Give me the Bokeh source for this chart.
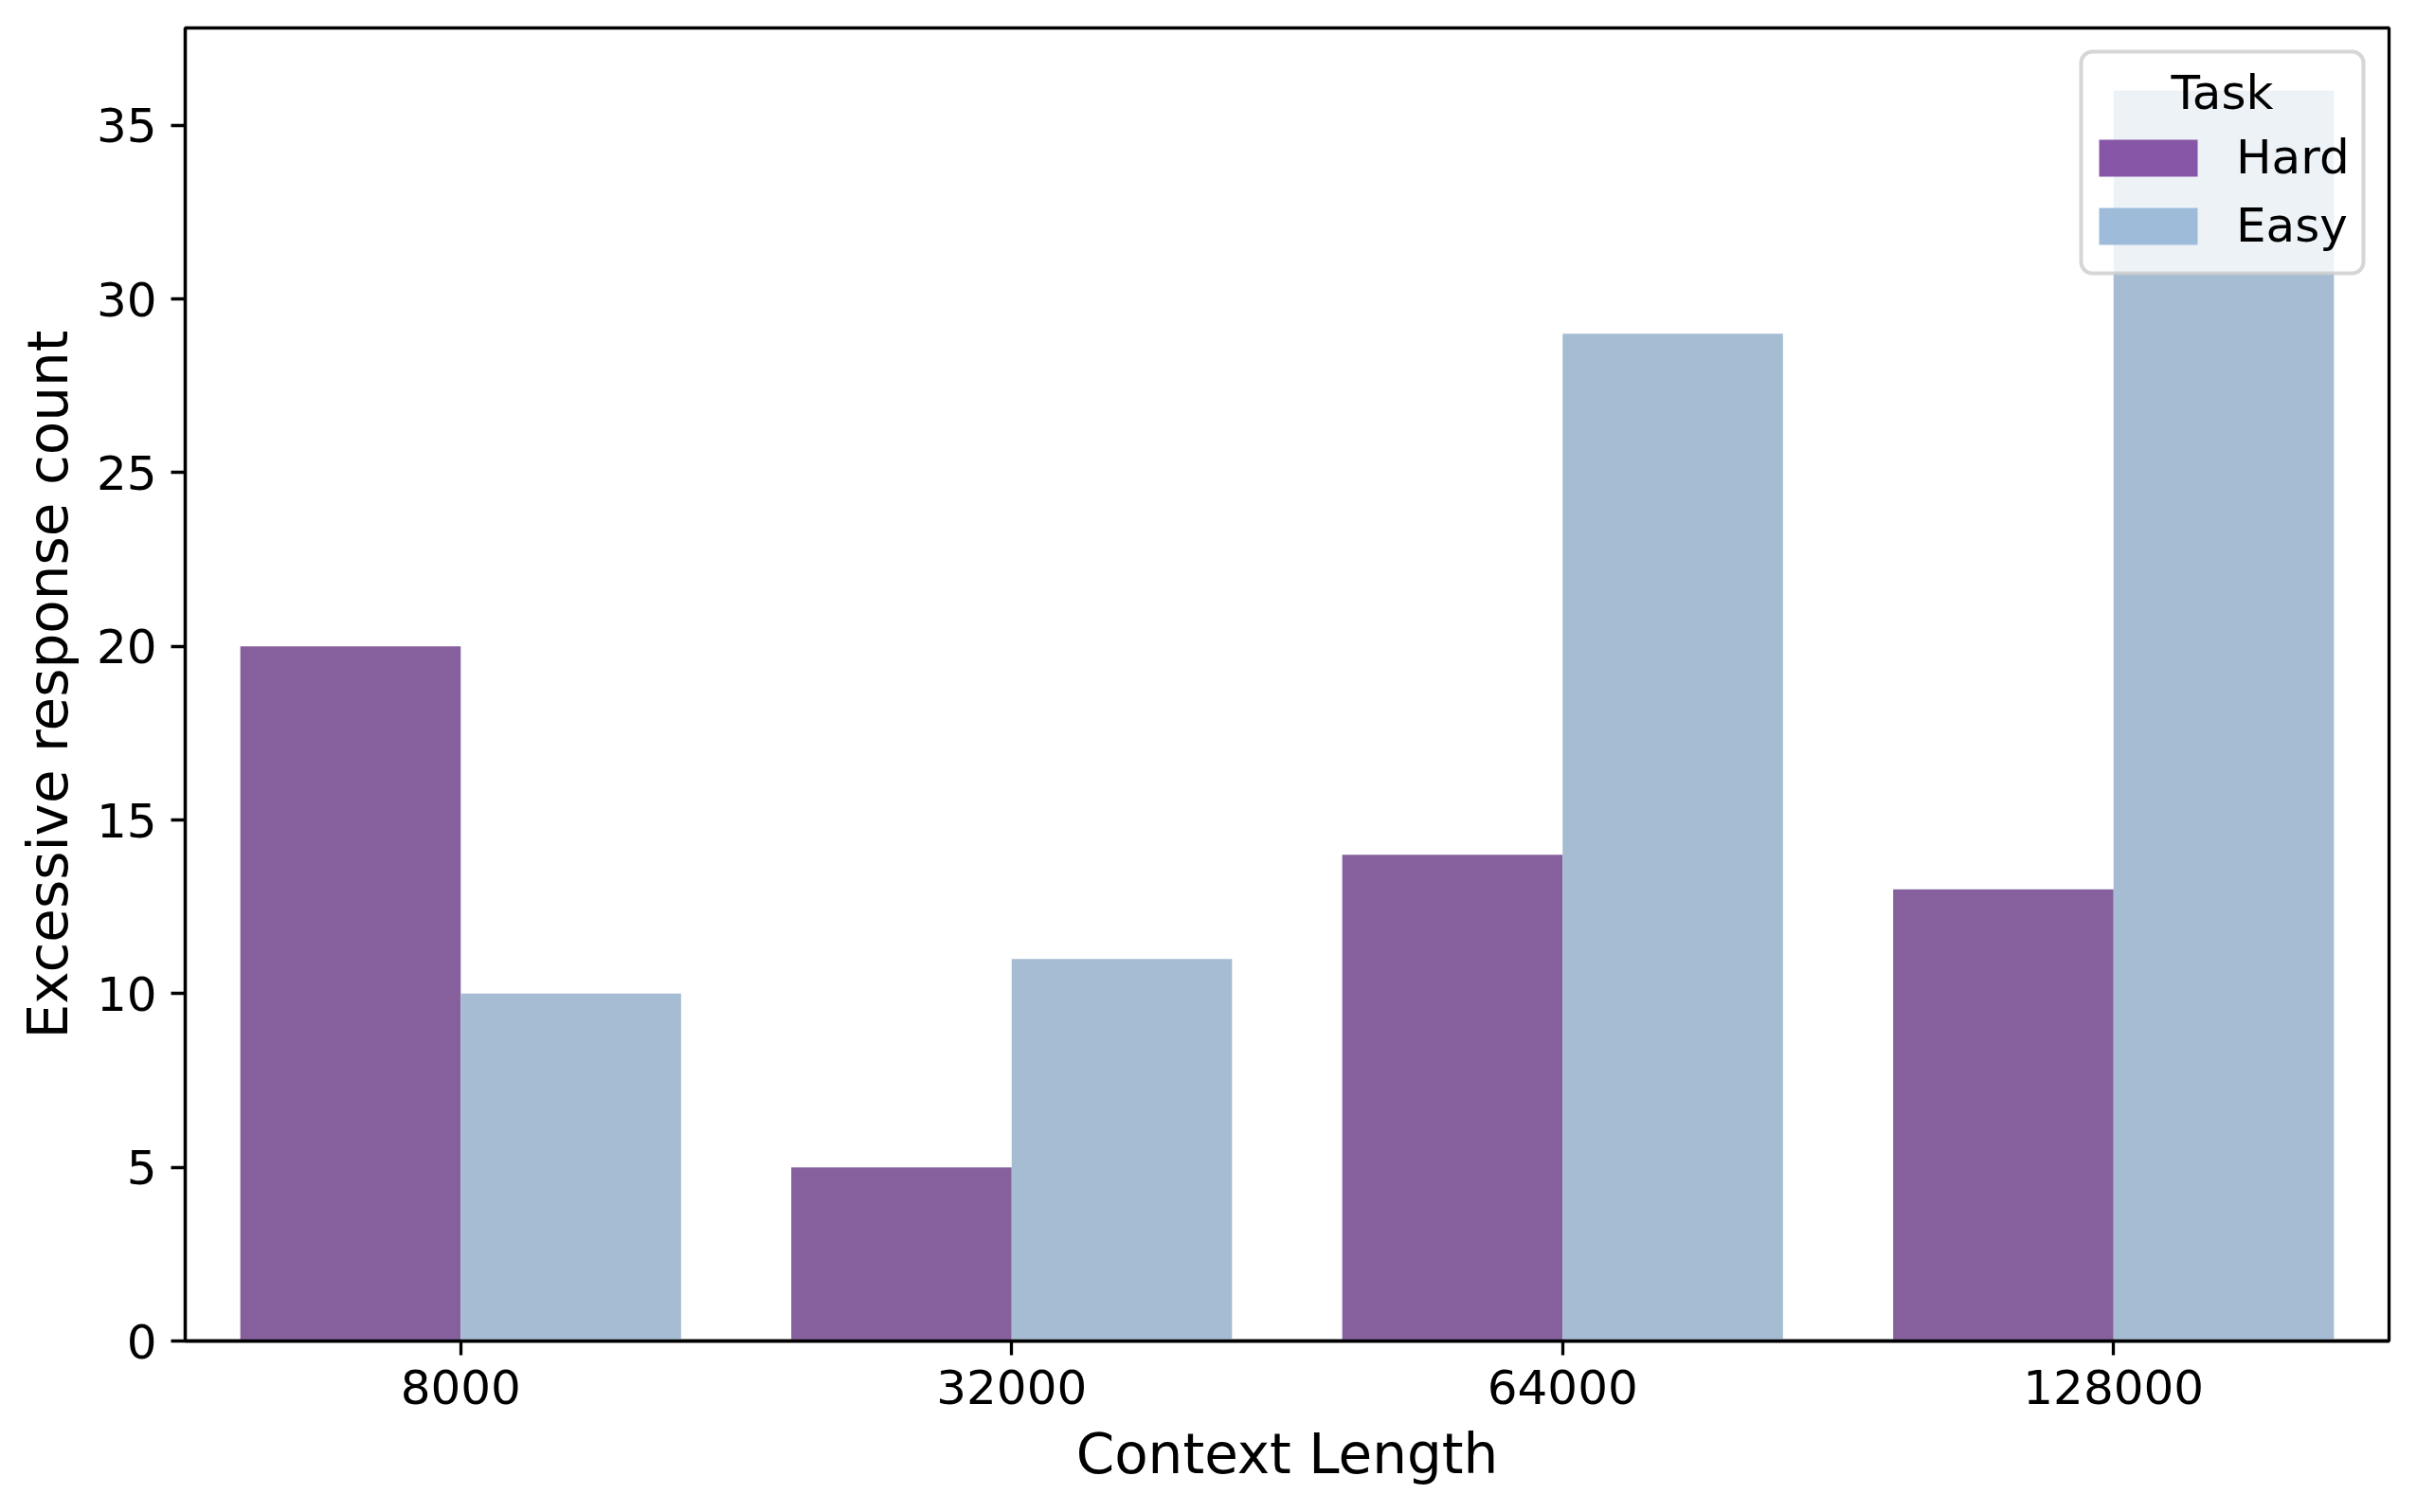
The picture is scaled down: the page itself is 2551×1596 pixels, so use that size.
from bokeh.plotting import figure
from bokeh.models import (ColumnDataSource, FactorRange, Range1d, FixedTicker, Legend, LegendItem,
                          BoxAnnotation, Label)
from bokeh.transform import dodge
from bokeh.embed import file_html
from bokeh.resources import INLINE

# ---- data ----
contexts = ["8000", "32000", "64000", "128000"]
hard = [20, 5, 14, 13]
easy = [10, 11, 29, 36]
y_ticks = [0, 5, 10, 15, 20, 25, 30, 35]
series_names = ["Hard", "Easy"]
legend_title = "Task"

hard_bar = "#86609d"
easy_bar = "#a6bcd2"
hard_leg = "#8856a7"
easy_leg = "#9ebcda"
FONT = "DejaVu Sans"

src = ColumnDataSource(dict(ctx=contexts, hard=hard, easy=easy))

p = figure(width=2535, height=1580, output_backend="svg", toolbar_location=None,
           x_range=FactorRange(*contexts, range_padding=0),
           y_range=Range1d(0, 37.8),
           min_border_left=195, min_border_right=14, min_border_top=29, min_border_bottom=165)

p.vbar(x=dodge("ctx", -0.2, range=p.x_range), top="hard", width=0.4, source=src,
       fill_color=hard_bar, line_color=None)
p.vbar(x=dodge("ctx", 0.2, range=p.x_range), top="easy", width=0.4, source=src,
       fill_color=easy_bar, line_color=None)

# legend swatch proxies (non-finite heights: nothing drawn in the plot area)
proxy_src = ColumnDataSource(dict(ctx=contexts[:1], top=[float("nan")]))
r_lh = p.vbar(x="ctx", top="top", width=0.4, source=proxy_src, fill_color=hard_leg, line_color=None)
r_le = p.vbar(x="ctx", top="top", width=0.4, source=proxy_src, fill_color=easy_leg, line_color=None)

p.grid.visible = False
p.background_fill_color = "white"
p.border_fill_color = "white"
p.outline_line_color = "black"
p.outline_line_width = 3.3

for ax in (p.xaxis[0], p.yaxis[0]):
    ax.axis_line_width = 3.3
    ax.axis_line_color = "black"
    ax.major_tick_line_width = 3.3
    ax.major_tick_out = 15
    ax.major_tick_in = 0
    ax.minor_tick_line_color = None
    ax.major_label_text_font = FONT
    ax.major_label_text_font_size = "50px"
    ax.major_label_text_color = "black"
    ax.major_label_standoff = 15
    ax.axis_label_text_font = FONT
    ax.axis_label_text_font_size = "58px"
    ax.axis_label_text_font_style = "normal"
    ax.axis_label_text_color = "black"

p.yaxis[0].ticker = FixedTicker(ticks=y_ticks)
p.xaxis[0].axis_label = "Context Length"
p.yaxis[0].axis_label = "Excessive response count"
p.xaxis[0].axis_label_standoff = 16
p.yaxis[0].axis_label_standoff = 14

# legend frame (screen units relative to the plot frame, y upward)
box = BoxAnnotation(left=2001, right=2299, top=1361, bottom=1127,
                    left_units="screen", right_units="screen", top_units="screen", bottom_units="screen",
                    fill_color="white", fill_alpha=0.8,
                    line_color="#cccccc", line_alpha=0.8, line_width=4)
if "border_radius" in BoxAnnotation.properties():
    box.border_radius = 12
p.add_layout(box)

title = Label(x=2150, y=1318, x_units="screen", y_units="screen", text=legend_title,
              text_font=FONT, text_font_size="50px", text_color="black",
              text_align="center", text_baseline="alphabetic")
p.add_layout(title)

legend = Legend(items=[LegendItem(label=series_names[0], renderers=[r_lh]),
                       LegendItem(label=series_names[1], renderers=[r_le])],
                location=(2007, 1148))
legend.label_text_font = FONT
legend.label_text_font_size = "50px"
legend.label_text_color = "black"
legend.glyph_width = 130
legend.glyph_height = 49
legend.label_height = 39
legend.label_standoff = 28
legend.spacing = 14
legend.padding = 0
legend.margin = 0
legend.background_fill_alpha = 0
legend.border_line_color = None
p.add_layout(legend)

open("out.html", "w").write(file_html(p, INLINE))
